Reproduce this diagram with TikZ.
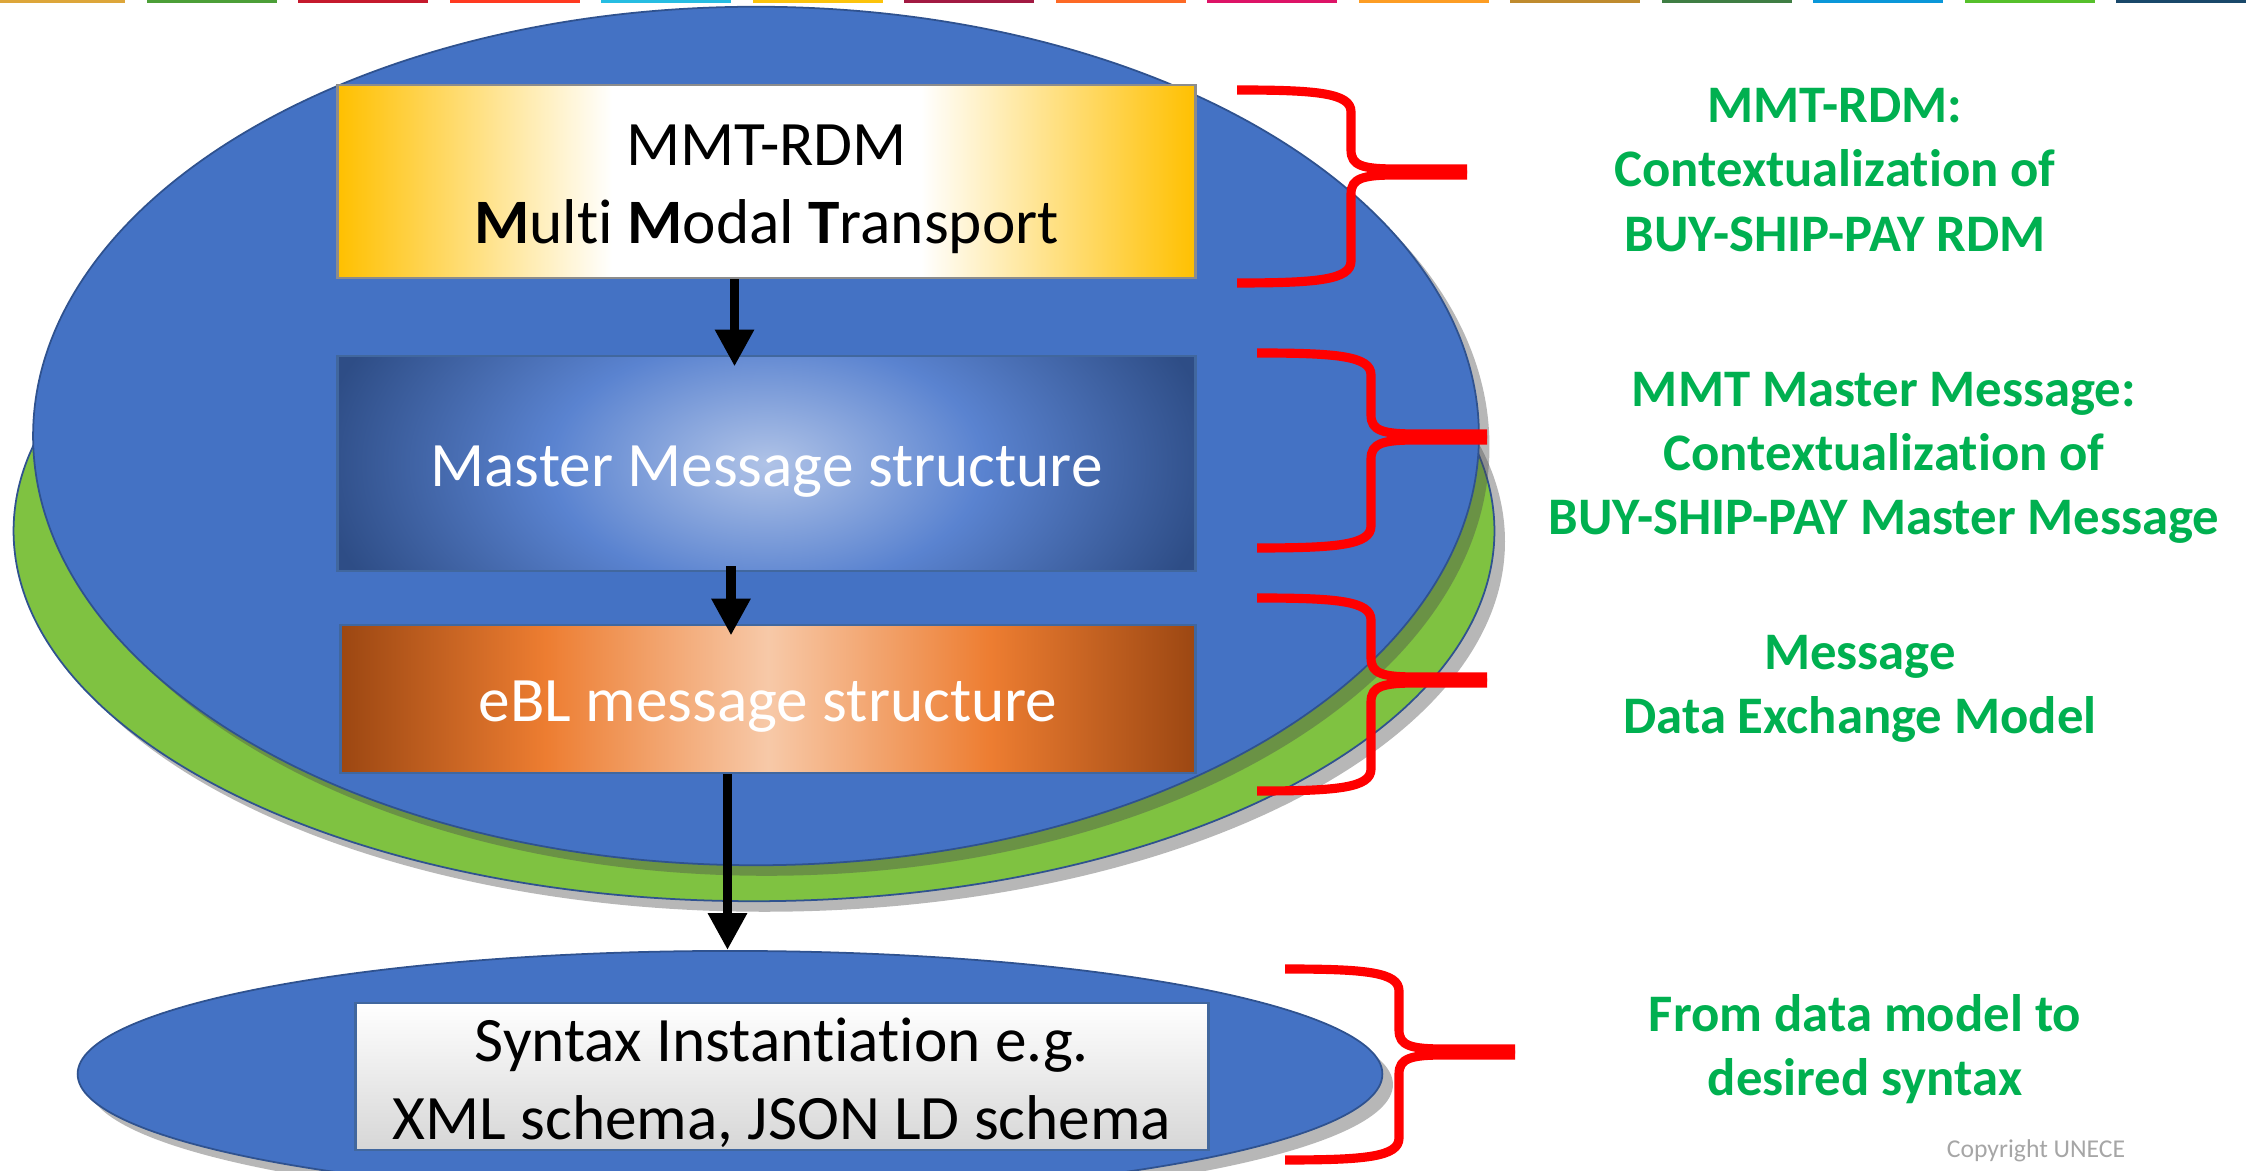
\documentclass[tikz,border=0pt]{standalone}
\usepackage{fontspec}
\setmainfont{Carlito}[Ligatures=NoCommon]
\usetikzlibrary{arrows.meta,shapes.geometric,shadows}

\definecolor{ovalblue}{HTML}{4472C4}
\definecolor{ovalline}{HTML}{2F528F}
\definecolor{ovalgreen}{HTML}{7FC241}
\definecolor{boxline}{HTML}{41679E}
\definecolor{rdmgold}{HTML}{FFC000}
\definecolor{mmlight}{HTML}{B0C3E7}
\definecolor{mmmid}{HTML}{5A83D0}
\definecolor{mmdark}{HTML}{2E4D86}
\definecolor{ebldark}{HTML}{9C4712}
\definecolor{eblorange}{HTML}{ED7D31}
\definecolor{ebllight}{HTML}{F7C9A8}
\definecolor{notegreen}{HTML}{00B050}
\definecolor{bracered}{HTML}{FF0000}
\definecolor{copygray}{HTML}{A6A6A6}
% goal colours of the top strip
\definecolor{sdga}{HTML}{DDA63A}
\definecolor{sdgb}{HTML}{4C9F38}
\definecolor{sdgc}{HTML}{C5192D}
\definecolor{sdgd}{HTML}{FF3A21}
\definecolor{sdge}{HTML}{26BDE2}
\definecolor{sdgf}{HTML}{FCC30B}
\definecolor{sdgg}{HTML}{A21942}
\definecolor{sdgh}{HTML}{FD6925}
\definecolor{sdgi}{HTML}{DD1367}
\definecolor{sdgj}{HTML}{FD9D24}
\definecolor{sdgk}{HTML}{BF8B2E}
\definecolor{sdgl}{HTML}{3F7E44}
\definecolor{sdgm}{HTML}{0A97D9}
\definecolor{sdgn}{HTML}{56C02B}
\definecolor{sdgo}{HTML}{19486A}

\pgfdeclarehorizontalshading{rdmshade}{100bp}{color(0bp)=(rdmgold); color(25bp)=(rdmgold); color(41bp)=(white); color(59bp)=(white); color(75bp)=(rdmgold); color(100bp)=(rdmgold)}
\pgfdeclarehorizontalshading{eblshade}{100bp}{color(0bp)=(ebldark); color(25bp)=(ebldark); color(37bp)=(eblorange); color(50bp)=(ebllight); color(63bp)=(eblorange); color(75bp)=(ebldark); color(100bp)=(ebldark)}
\pgfdeclareradialshading{mastershade}{\pgfpointorigin}{color(0bp)=(mmlight); color(12bp)=(mmmid); color(25bp)=(mmdark); color(50bp)=(mmdark)}

% lowers box text a little
\newcommand{\boxstrut}{\rule{0pt}{16pt}}

% left x, top y, middle y, bottom y
\newcommand{\sidebrace}[4]{%
  \draw[redbrace] (#1,#2) .. controls ({#1+80},#2) and ({#1+114},{#2+3}) .. ({#1+114},{#2+22})
    -- ({#1+114},{#3-22}) .. controls ({#1+114},{#3-6}) and ({#1+126},{#3-3}) .. ({#1+160},{#3-3})
    -- ({#1+230},{#3-3});
  \draw[redbrace] ({#1+230},{#3+3}) -- ({#1+160},{#3+3})
    .. controls ({#1+126},{#3+3}) and ({#1+114},{#3+6}) .. ({#1+114},{#3+22})
    -- ({#1+114},{#4-22}) .. controls ({#1+114},{#4-3}) and ({#1+80},#4) .. (#1,#4);}

\begin{document}
\begin{tikzpicture}[x=0.01cm, y=-0.01cm,
  oval/.style={draw=ovalline, line width=0.5pt, ellipse, inner sep=0pt,
    drop shadow={shadow xshift=3pt, shadow yshift=-3pt, fill=black!70, opacity=0.4}},
  box/.style={draw=boxline, line width=0.8pt, inner sep=0pt, align=center,
    minimum width=8.57cm, font=\fontsize{18}{22}\selectfont},
  flow/.style={-{Triangle[width=10.5pt,length=10.5pt]}, line width=2.8pt},
  redbrace/.style={draw=bracered, line width=2.6pt},
  notetext/.style={text=notegreen, align=center, font=\fontsize{15}{18.3}\selectfont\bfseries}]
\useasboundingbox (0,0) rectangle (2249,1171);
\clip (0,0) rectangle (2249,1171);

% top strip
\fill[sdga] (-5,0) rectangle (125,3);
\fill[sdgb] (146.5,0) rectangle (276.5,3);
\fill[sdgc] (298,0) rectangle (428,3);
\fill[sdgd] (449.5,0) rectangle (579.5,3);
\fill[sdge] (601,0) rectangle (731,3);
\fill[sdgf] (752.5,0) rectangle (882.5,3);
\fill[sdgg] (904,0) rectangle (1034,3);
\fill[sdgh] (1055.5,0) rectangle (1185.5,3);
\fill[sdgi] (1207,0) rectangle (1337,3);
\fill[sdgj] (1358.5,0) rectangle (1488.5,3);
\fill[sdgk] (1510,0) rectangle (1640,3);
\fill[sdgl] (1661.5,0) rectangle (1791.5,3);
\fill[sdgm] (1813,0) rectangle (1943,3);
\fill[sdgn] (1964.5,0) rectangle (2094.5,3);
\fill[sdgo] (2116,0) rectangle (2246,3);

% ovals
\node[oval, fill=ovalgreen, minimum width=14.80cm, minimum height=7.40cm] (greenoval) at (754,531) {};
\node[oval, fill=ovalblue, minimum width=14.45cm, minimum height=8.58cm] (mainoval) at (756,436) {};
\node[oval, fill=ovalblue, minimum width=13.04cm, minimum height=2.46cm] (syntaxoval) at (730,1074) {};
\coordinate (spine) at (731,0);

% boxes
\node[box, draw=black!45, shading=rdmshade, minimum height=1.93cm] (rdm) at (766.5,181.5)
  {\boxstrut MMT-RDM\\\textbf{M}ulti \textbf{M}odal \textbf{T}ransport};
\node[box, fill=mmdark, text=white, minimum height=2.15cm,
  path picture={\shade[shading=mastershade] (path picture bounding box.center) ellipse [x radius=4.5cm, y radius=2.6cm];}]
  (master) at (766.5,463.5) {\boxstrut Master Message structure};
\node[box, shading=eblshade, text=white, minimum width=8.54cm, minimum height=1.48cm] (ebl) at (768,699)
  {\boxstrut eBL message structure};
\node[box, top color=white, bottom color=black!16, minimum width=8.52cm, minimum height=1.47cm] (syntax) at (782,1076.5)
  {\boxstrut Syntax Instantiation e.g.\\XML schema, JSON LD schema};

% arrows
\draw[flow, shorten >=-3.4pt] ([xshift=1pt]rdm.south -| spine) -- ([xshift=1pt]master.north -| spine);
\draw[flow, shorten <=-1.7pt, shorten >=-3.4pt] (master.south -| spine) -- (ebl.north -| spine);
\draw[flow] ([xshift=-1pt]ebl.south -| spine) -- ([xshift=-1pt]syntaxoval.north -| spine);

% braces
\sidebrace{1237}{90}{172}{283}
\sidebrace{1257}{353}{437}{548}
\sidebrace{1257}{598}{680}{791}
\sidebrace{1285}{969}{1052}{1160}

% notes
\node[notetext] (rdmnote) at (1835,170) {MMT-RDM:\\Contextualization of\\BUY-SHIP-PAY RDM};
\node[notetext] (masternote) at (1884,458) {MMT Master Message:\\Contextualization of\\BUY-SHIP-PAY Master Message};
\node[notetext] (eblnote) at (1860,689) {Message\\Data Exchange Model};
\node[notetext] (syntaxnote) at (1865,1049) {From data model to\\desired syntax};
\node[text=copygray, font=\fontsize{7.3}{9}\selectfont] (copyright) at (2036,1151) {Copyright UNECE};
\end{tikzpicture}
\end{document}
